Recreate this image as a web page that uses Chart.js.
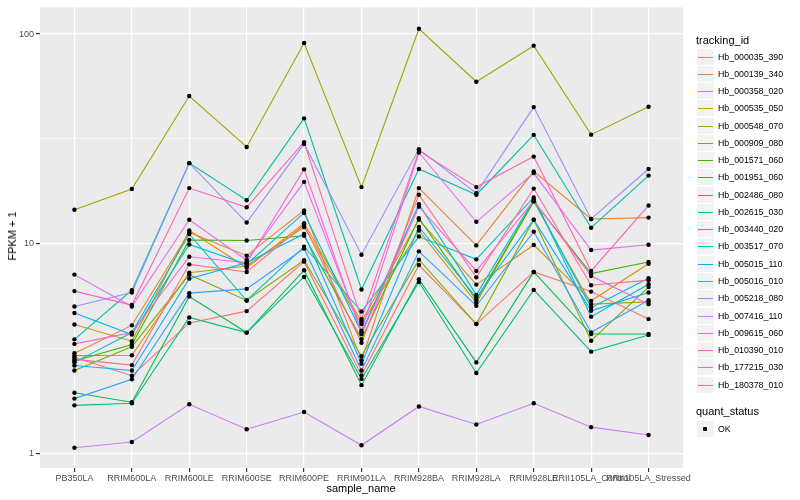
<!DOCTYPE html>
<html>
<head>
<meta charset="utf-8">
<script src="https://cdn.jsdelivr.net/npm/chart.js@4"></script>
<style>
  body { margin: 0; background: #fff; }
  #wrap { position: relative; width: 800px; height: 500px; font-family: "Liberation Sans", Arial, sans-serif; }
  #chart { position: absolute; left: 0; top: 0; }
  .ttl { position: absolute; font-size: 11px; color: #000; white-space: nowrap; }
  .key { position: absolute; left: 697px; width: 17px; height: 16px; background: #F2F2F2; }
  .key i { position: absolute; left: 1px; right: 1px; top: 8px; height: 1.3px; }
  .lab { position: absolute; left: 718px; font-size: 8.8px; color: #000; line-height: 10px; white-space: nowrap; }
</style>
</head>
<body>
<div id="wrap">
  <canvas id="chart" width="800" height="500"></canvas>
  <div class="ttl" style="left:4px; top:236px; transform: translate(-50%, -50%) rotate(-90deg); margin-left:8px;">FPKM + 1</div>
  <div class="ttl" style="left:361px; top:482px; transform: translateX(-50%);">sample_name</div>
  <div id="legend"></div>
</div>
<script>
// sample order on the x axis
const categories = [
  'PB350LA', 'RRIM600LA', 'RRIM600LE', 'RRIM600SE', 'RRIM600PE', 'RRIM901LA',
  'RRIM928BA', 'RRIM928LA', 'RRIM928LE', 'RRII105LA_Control', 'RRII105LA_Stressed'
];

const seriesIds = [
  'Hb_000035_390', 'Hb_000139_340', 'Hb_000358_020', 'Hb_000535_050', 'Hb_000548_070',
  'Hb_000909_080', 'Hb_001571_060', 'Hb_001951_060', 'Hb_002486_080', 'Hb_002615_030',
  'Hb_003440_020', 'Hb_003517_070', 'Hb_005015_110', 'Hb_005016_010', 'Hb_005218_080',
  'Hb_007416_110', 'Hb_009615_060', 'Hb_010390_010', 'Hb_177215_030', 'Hb_180378_010'
];

// ggplot default hue palette for 20 groups
const seriesColors = [
  '#F8766D', '#EA8331', '#D89000', '#C09B00', '#A3A500', '#7CAE00', '#39B600',
  '#00BB4E', '#00BF7D', '#00C1A3', '#00BFC4', '#00BAE0', '#00B0F6', '#35A2FF',
  '#9590FF', '#C77CFF', '#E76BF3', '#FA62DB', '#FF62BC', '#FF6C91'
];

// FPKM + 1 per sample
const hb000035_390 = [2.87, 2.34, 4.18, 4.76, 8.2, 2.35, 7.9, 4.13, 7.32, 5.9, 4.36];
const hb000139_340 = [3.0, 4.07, 11.3, 8.75, 14.4, 2.77, 18.4, 9.8, 22.1, 13.1, 13.3];
const hb000358_020 = [4.11, 3.42, 11.55, 7.67, 12.5, 4.25, 13.0, 6.37, 9.84, 5.33, 8.01];
const hb000535_050 = [2.92, 2.93, 7.26, 7.82, 12.0, 4.13, 11.55, 5.22, 15.9, 5.14, 5.27];
const hb000548_070 = [14.5, 18.2, 50.6, 28.9, 90.6, 18.6, 106, 59.2, 88, 33.1, 45];
const hb000909_080 = [2.48, 3.22, 7.1, 5.35, 8.32, 2.9, 8.38, 4.13, 13.0, 3.44, 6.2];
const hb001571_060 = [2.75, 3.3, 10.4, 10.35, 10.9, 3.5, 13.2, 5.37, 15.9, 7.19, 8.17];
const hb001951_060 = [1.94, 1.75, 5.59, 3.76, 7.46, 2.11, 6.76, 2.71, 7.32, 3.70, 3.70];
const hb002486_080 = [1.69, 1.73, 4.44, 3.76, 6.93, 2.26, 6.56, 2.41, 6.01, 3.05, 3.66];
const hb002615_030 = [3.49, 5.99, 24.2, 16.1, 39.6, 6.04, 22.7, 17.1, 33.0, 11.9, 21.1];
const hb003440_020 = [2.71, 3.76, 11.1, 5.35, 9.66, 4.74, 10.8, 8.41, 16.6, 4.48, 6.4];
const hb003517_070 = [4.66, 3.68, 9.9, 7.96, 14.0, 3.77, 15.4, 5.69, 16.2, 4.95, 6.83];
const hb005015_110 = [2.62, 2.48, 6.8, 8.1, 11.1, 2.67, 12.0, 5.53, 13.0, 4.78, 5.84];
const hb005016_010 = [1.82, 2.25, 5.8, 6.08, 9.48, 2.48, 9.18, 5.05, 11.4, 3.77, 5.37];
const hb005218_080 = [5.01, 5.84, 24.2, 12.6, 29.9, 8.85, 28.2, 17.4, 44.8, 13.1, 22.7];
const hb007416_110 = [1.06, 1.13, 1.71, 1.30, 1.57, 1.09, 1.67, 1.37, 1.73, 1.33, 1.22];
const hb009615_060 = [7.11, 5.01, 13.0, 8.32, 19.7, 3.84, 27.2, 12.7, 21.7, 9.31, 9.87];
const hb010390_010 = [3.32, 3.76, 8.65, 8.1, 22.6, 3.70, 15.0, 7.4, 16.0, 7.0, 5.14];
const hb177215_030 = [5.93, 5.09, 18.4, 14.9, 30.5, 4.36, 27.7, 18.6, 26.0, 7.4, 15.2];
const hb180378_010 = [2.80, 2.63, 7.96, 7.32, 12.3, 3.36, 17.1, 6.9, 18.3, 6.33, 6.69];

const seriesValues = [
  hb000035_390, hb000139_340, hb000358_020, hb000535_050, hb000548_070,
  hb000909_080, hb001571_060, hb001951_060, hb002486_080, hb002615_030,
  hb003440_020, hb003517_070, hb005015_110, hb005016_010, hb005218_080,
  hb007416_110, hb009615_060, hb010390_010, hb177215_030, hb180378_010
];

const yMajor = [1, 10, 100];
const yMinor = [Math.sqrt(10), Math.sqrt(1000)];

// panel background like theme_grey
const panelBg = {
  id: 'panelBg',
  beforeDraw(chart) {
    const a = chart.chartArea, ctx = chart.ctx;
    ctx.save();
    ctx.fillStyle = '#EBEBEB';
    ctx.fillRect(a.left, a.top, a.right - a.left, a.bottom - a.top);
    ctx.restore();
  }
};

const lineSets = seriesValues.map((vals, i) => ({
  type: 'line',
  label: seriesIds[i],
  data: vals.map((v, j) => ({ x: j, y: v })),
  borderColor: seriesColors[i],
  borderWidth: 1.1,
  pointRadius: 0,
  fill: false,
  tension: 0,
  order: 100 - i
}));

const pointSet = {
  type: 'scatter',
  label: 'OK',
  data: seriesValues.flatMap(vals => vals.map((v, j) => ({ x: j, y: v }))),
  backgroundColor: '#000',
  borderWidth: 0,
  pointRadius: 2.2,
  order: 0
};

const tickFont = { family: "'Liberation Sans', Arial, sans-serif", size: 9 };

new Chart(document.getElementById('chart'), {
  type: 'line',
  data: { datasets: [pointSet].concat(lineSets) },
  plugins: [panelBg],
  options: {
    responsive: false,
    animation: false,
    devicePixelRatio: 1,
    layout: { padding: { left: 0, right: 117, top: 5, bottom: 0 } },
    plugins: { legend: { display: false }, tooltip: { enabled: false } },
    scales: {
      x: {
        type: 'linear',
        min: -0.6,
        max: 10.6,
        afterBuildTicks: s => { s.ticks = categories.map((c, i) => ({ value: i })); },
        afterFit: s => { s.height = 32; },
        ticks: {
          autoSkip: false, maxRotation: 0, padding: 1,
          color: '#4D4D4D', font: tickFont,
          callback: v => categories[v]
        },
        grid: { color: '#FFFFFF', lineWidth: 1.2, tickColor: '#333333', tickLength: 4 },
        border: { display: false }
      },
      y: {
        type: 'logarithmic',
        min: 0.849,
        max: 134,
        afterBuildTicks: s => {
          s.ticks = [1, yMinor[0], 10, yMinor[1], 100].map(v => ({ value: v }));
        },
        afterFit: s => { s.width = 40; },
        ticks: {
          padding: 2, color: '#4D4D4D', font: tickFont,
          callback: v => (yMajor.includes(v) ? String(v) : '')
        },
        grid: {
          color: '#FFFFFF',
          lineWidth: c => (yMajor.includes(c.tick.value) ? 1.2 : 0.6),
          tickColor: c => (yMajor.includes(c.tick.value) ? '#333333' : 'rgba(0,0,0,0)'),
          tickLength: 4
        },
        border: { display: false }
      }
    }
  }
});

// ggplot-style legends on the right
const legend = document.getElementById('legend');
let html = '<div class="ttl" style="left:696px; top:34px;">tracking_id</div>';
seriesIds.forEach((id, i) => {
  const top = Math.round(48.5 + i * 17.27);
  html += `<div class="key" style="top:${top}px;"><i style="background:${seriesColors[i]}"></i></div>`;
  html += `<div class="lab" style="top:${top + 3}px;">${id}</div>`;
});
html += '<div class="ttl" style="left:696px; top:405px;">quant_status</div>';
html += '<div class="key" style="top:421px;"><i style="left:6px; right:auto; width:4px; height:4px; top:6px; background:#000; border-radius:1px"></i></div>';
html += '<div class="lab" style="top:424px;">OK</div>';
legend.innerHTML = html;
</script>
</body>
</html>
